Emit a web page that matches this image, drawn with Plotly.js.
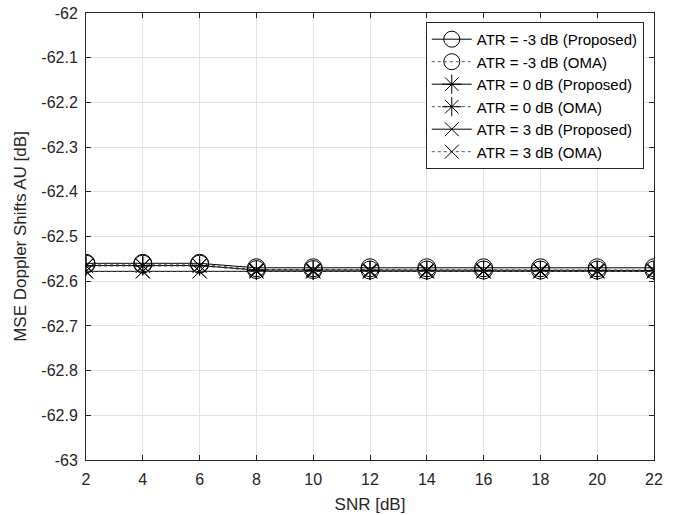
<!DOCTYPE html>
<html><head><meta charset="utf-8">
<script src="https://cdn.plot.ly/plotly-3.0.1.min.js"></script>
<style>body{margin:0;background:#fff}#plot{width:682px;height:515px}</style>
</head><body><div id="plot"></div>
<script>
const snr = [2,4,6,8,10,12,14,16,18,20,22];
const atrM3Proposed = [-62.560,-62.560,-62.560,-62.570,-62.570,-62.570,-62.570,-62.570,-62.570,-62.570,-62.570];
const atrM3OMA      = [-62.562,-62.562,-62.562,-62.574,-62.574,-62.575,-62.575,-62.575,-62.575,-62.575,-62.575];
const atr0Proposed  = [-62.565,-62.565,-62.565,-62.575,-62.575,-62.576,-62.576,-62.576,-62.576,-62.576,-62.576];
const atr0OMA       = [-62.566,-62.566,-62.566,-62.576,-62.576,-62.576,-62.576,-62.576,-62.576,-62.576,-62.576];
const atr3Proposed  = [-62.578,-62.578,-62.578,-62.578,-62.578,-62.578,-62.578,-62.578,-62.578,-62.578,-62.578];
const atr3OMA       = [-62.578,-62.578,-62.578,-62.578,-62.578,-62.578,-62.578,-62.578,-62.578,-62.578,-62.578];
const names = ['ATR = -3 dB (Proposed)','ATR = -3 dB (OMA)','ATR = 0 dB (Proposed)','ATR = 0 dB (OMA)','ATR = 3 dB (Proposed)','ATR = 3 dB (OMA)'];
const yTickVals = [-63,-62.9,-62.8,-62.7,-62.6,-62.5,-62.4,-62.3,-62.2,-62.1,-62];
const yTickText = ['-63','-62.9','-62.8','-62.7','-62.6','-62.5','-62.4','-62.3','-62.2','-62.1','-62'];
const xTickVals = [2,4,6,8,10,12,14,16,18,20,22];

const series = [atrM3Proposed, atrM3OMA, atr0Proposed, atr0OMA, atr3Proposed, atr3OMA];
const symbols = ['circle-open','circle-open','asterisk-open','asterisk-open','x-thin-open','x-thin-open'];
const sizes = [18,18,16,16,14,14];
const dashes = ['solid','dot','solid','dot','solid','dot'];
const traces = series.map((y,i)=>({
  x: snr, y: y, name: names[i], type:'scatter', mode:'lines+markers',
  line:{color: i%2===0 ? '#000' : '#555', width:1, dash:dashes[i]},
  marker:{symbol:symbols[i], size:sizes[i], color:'#000', line:{color:'#000', width:1}}
}));

const layout = {
  width:682, height:515,
  margin:{l:86, r:28, t:13, b:55},
  paper_bgcolor:'#fff', plot_bgcolor:'#fff',
  font:{family:'Liberation Sans, Arial, sans-serif', size:16, color:'#262626'},
  showlegend:true,
  legend:{x:0.982, y:0.98, xanchor:'right', yanchor:'top', bgcolor:'#fff', bordercolor:'#262626', borderwidth:1,
          font:{size:15, color:'#000'}, tracegroupgap:0, itemwidth:40},
  xaxis:{range:[2,22], tickvals:xTickVals, ticks:'inside', ticklen:5, tickcolor:'#262626',
         ticklabelstandoff:5,
         showgrid:true, gridcolor:'#e3e3e3', gridwidth:1, zeroline:false,
         showline:true, linecolor:'#262626', linewidth:1, mirror:'ticks',
         title:{text:'SNR [dB]', font:{size:17, color:'#262626'}, standoff:10}},
  yaxis:{range:[-63,-62], tickvals:yTickVals, ticktext:yTickText, ticks:'inside', ticklen:5, tickcolor:'#262626',
         ticklabelstandoff:4,
         showgrid:true, gridcolor:'#e3e3e3', gridwidth:1, zeroline:false,
         showline:true, linecolor:'#262626', linewidth:1, mirror:'ticks',
         title:{text:'MSE Doppler Shifts AU [dB]', font:{size:17, color:'#262626'}, standoff:10}}
};
Plotly.newPlot('plot', traces, layout, {displayModeBar:false, staticPlot:true});
</script></body></html>
